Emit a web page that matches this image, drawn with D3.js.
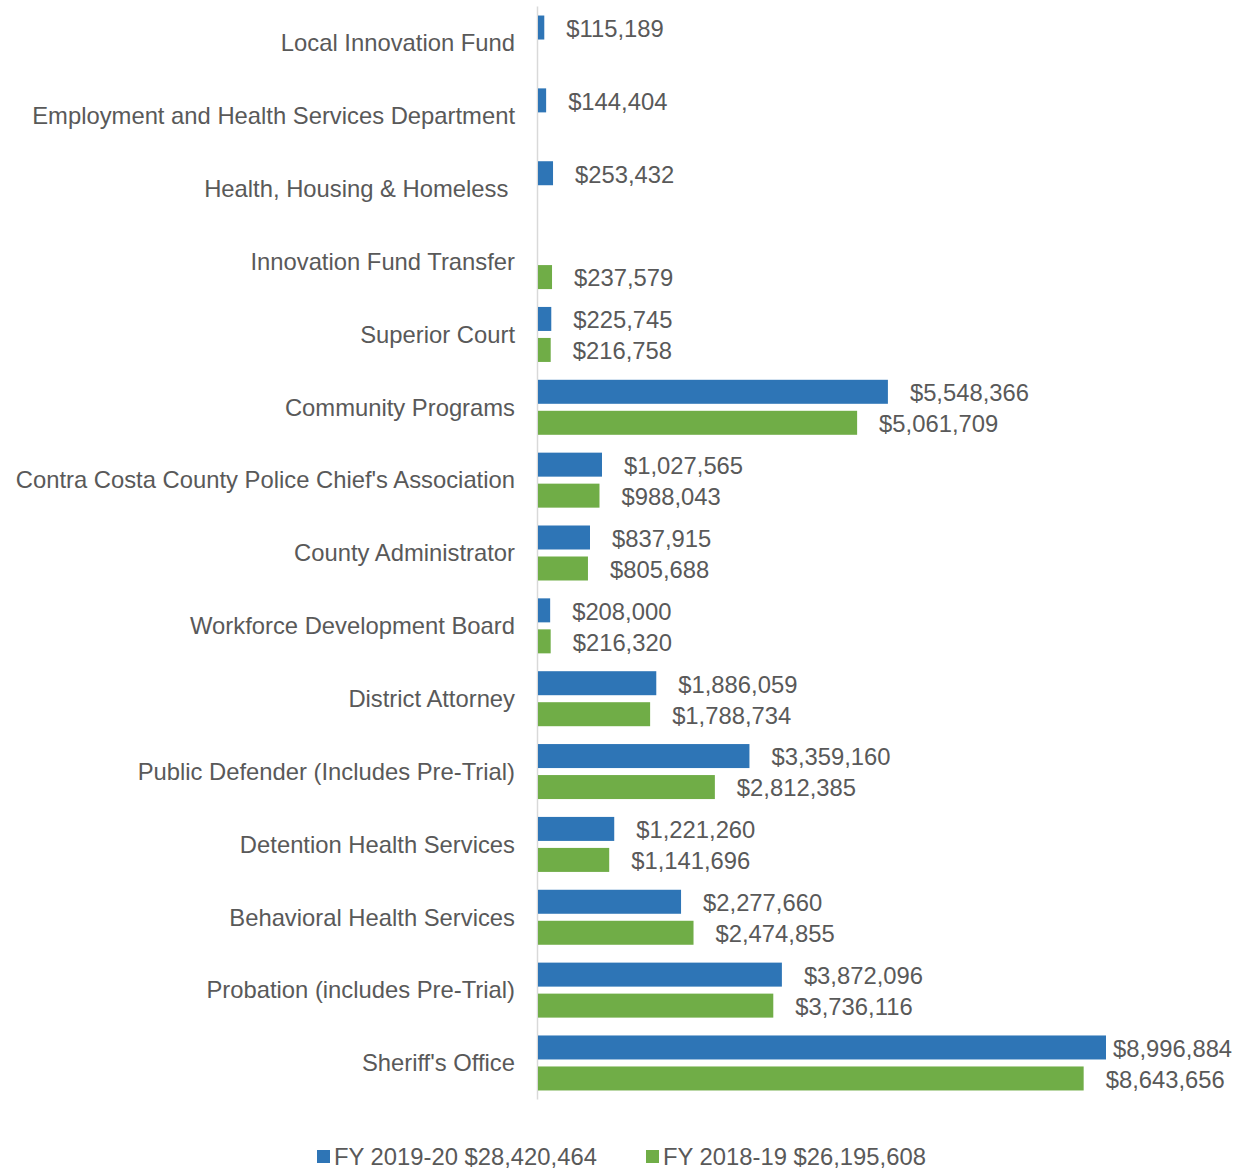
<!DOCTYPE html>
<html lang="en">
<head>
  <meta charset="UTF-8">
  <title>Funding by Department</title>
  <style>
    body { margin: 0; background: #fff; }
    svg text { font-family: "Liberation Sans", Arial, sans-serif; fill: #595959; }
  </style>
</head>
<body>
  <svg id="chart" width="1245" height="1169"></svg>

  <script src="https://d3js.org/d3.v7.min.js"></script>
  <script>
    const categories = [
      "Local Innovation Fund",
      "Employment and Health Services Department",
      "Health, Housing & Homeless ",
      "Innovation Fund Transfer",
      "Superior Court",
      "Community Programs",
      "Contra Costa County Police Chief's Association",
      "County Administrator",
      "Workforce Development Board",
      "District Attorney",
      "Public Defender (Includes Pre-Trial)",
      "Detention Health Services",
      "Behavioral Health Services",
      "Probation (includes Pre-Trial)",
      "Sheriff's Office"
    ];
    const fy1920 = [115189, 144404, 253432, null, 225745, 5548366, 1027565, 837915, 208000, 1886059, 3359160, 1221260, 2277660, 3872096, 8996884];
    const fy1819 = [null, null, null, 237579, 216758, 5061709, 988043, 805688, 216320, 1788734, 2812385, 1141696, 2474855, 3736116, 8643656];
    const seriesNames = ["FY 2019-20 $28,420,464", "FY 2018-19 $26,195,608"];
    const colors = ["#2E75B6", "#70AD47"];

    const svg = d3.select("#chart");
    const fmt = d3.format("$,");
    const fontSize = "23.8px";

    const y = d3.scaleBand().domain(categories).range([6.6, 1099.4]);
    const x = d3.scaleLinear().domain([0, 8996884]).range([537, 1106]);

    const series = [fy1920, fy1819];
    const barH = 24;
    const offsets = [-27.5, 3.5];

    // axis line
    svg.append("line")
      .attr("x1", 537.5).attr("x2", 537.5)
      .attr("y1", y.range()[0]).attr("y2", y.range()[1])
      .attr("stroke", "#d9d9d9").attr("stroke-width", 1.5);

    series.forEach((vals, s) => {
      const rows = categories.map((c, i) => ({ c, v: vals[i] })).filter(d => d.v != null);
      const mid = d => y(d.c) + y.bandwidth() / 2;

      svg.selectAll(".bar" + s)
        .data(rows)
        .enter().append("rect")
        .attr("x", x(0) + 1)
        .attr("y", d => mid(d) + offsets[s])
        .attr("width", d => x(d.v) - x(0) - 1)
        .attr("height", barH)
        .attr("fill", colors[s]);

      svg.selectAll(".lab" + s)
        .data(rows)
        .enter().append("text")
        .attr("x", d => Math.min(x(d.v) + 22, 1113))
        .attr("y", d => mid(d) + offsets[s] + barH / 2 + 1)
        .attr("dy", "0.35em")
        .style("font-size", fontSize)
        .text(d => fmt(d.v));
    });

    // category labels
    svg.selectAll(".cat")
      .data(categories)
      .enter().append("text")
      .attr("x", 515)
      .attr("y", d => y(d) + y.bandwidth() / 2)
      .attr("dy", "0.35em")
      .attr("text-anchor", "end")
      .style("font-size", fontSize)
      .style("white-space", "pre")
      .text(d => d);

    // legend
    const legX = [317, 646];
    seriesNames.forEach((name, s) => {
      svg.append("rect")
        .attr("x", legX[s]).attr("y", 1150)
        .attr("width", 13).attr("height", 13)
        .attr("fill", colors[s]);
      svg.append("text")
        .attr("x", legX[s] + 17).attr("y", 1156.5)
        .attr("dy", "0.35em")
        .style("font-size", fontSize)
        .text(name);
    });
  </script>
</body>
</html>
